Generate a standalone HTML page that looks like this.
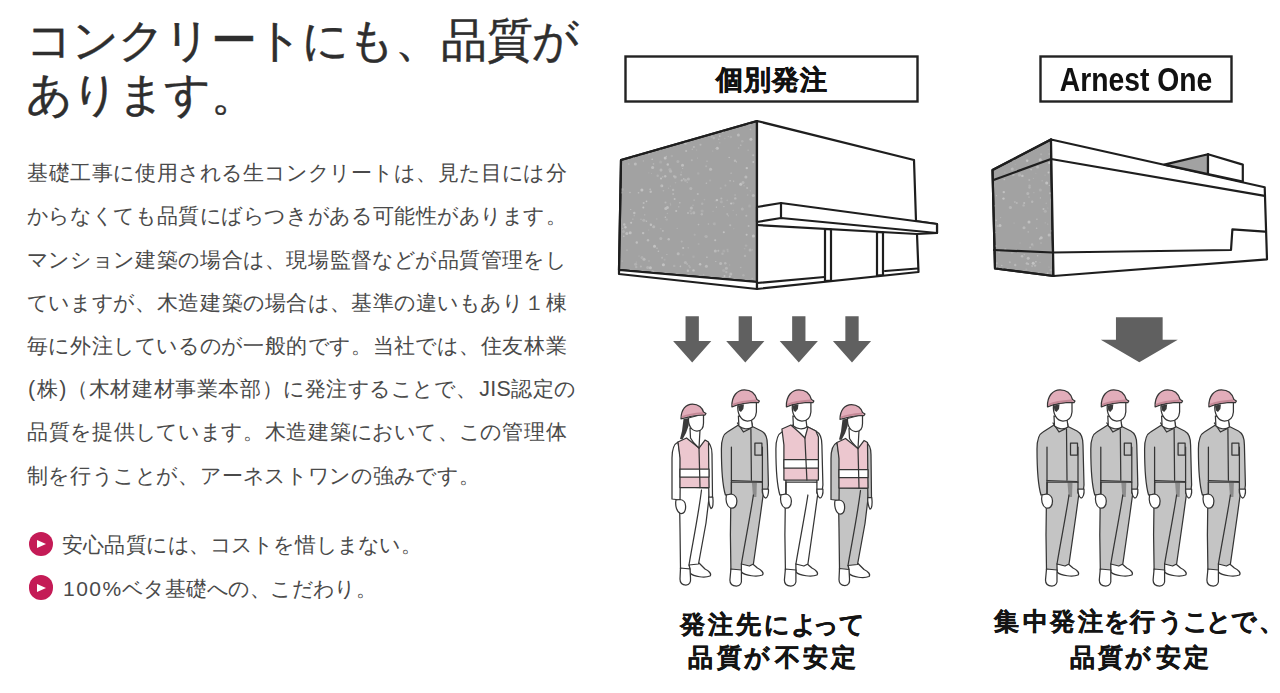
<!DOCTYPE html>
<html lang="ja"><head><meta charset="utf-8"><title>コンクリートにも、品質があります。</title>
<style>
*{margin:0;padding:0;box-sizing:border-box}
html,body{width:1280px;height:693px;overflow:hidden;background:#fff}
body{position:relative;font-family:"Liberation Sans",sans-serif;color:#333}
i{font-style:normal;display:inline-flex;justify-content:center;white-space:nowrap}
i.h{justify-content:flex-start}
i.a{position:absolute;display:block;line-height:1;font-weight:bold;color:#141414;-webkit-text-stroke:0.35px #141414}
h1{position:absolute;left:26.5px;font-size:45.5px;font-weight:normal;color:#2e2e2e;white-space:nowrap;line-height:1}
.p{position:absolute;left:27px;font-size:21.4px;color:#4a4a4a;white-space:nowrap;line-height:1}
.b{position:absolute;left:62px;font-size:21px;color:#4a4a4a;white-space:nowrap;line-height:1}
.ic{position:absolute;left:28.5px;width:24.8px;height:24.8px;border-radius:50%;background:#c41b56}
.ic:after{content:"";position:absolute;left:8.4px;top:8.7px;border-left:9.8px solid #fff;border-top:4.1px solid transparent;border-bottom:4.1px solid transparent}
.lb{position:absolute;font-weight:bold;color:#111;white-space:nowrap;line-height:1}
</style></head><body>
<h1 style="top:18px;-webkit-text-stroke:0.45px #2e2e2e"><i style="width:46px">コ</i><i style="width:46px">ン</i><i style="width:46px">ク</i><i style="width:46px">リ</i><i style="width:46px">ー</i><i style="width:46px">ト</i><i style="width:46px">に</i><i style="width:46px">も</i><i style="width:46px">、</i><i style="width:46px">品</i><i style="width:46px">質</i><i style="width:46px">が</i></h1>
<h1 style="top:71.5px;-webkit-text-stroke:0.45px #2e2e2e"><i style="width:46px">あ</i><i style="width:46px">り</i><i style="width:46px">ま</i><i style="width:46px">す</i><i style="width:46px">。</i></h1>
<div class="p" style="top:163.2px"><i style="width:21.6px">基</i><i style="width:21.6px">礎</i><i style="width:21.6px">工</i><i style="width:21.6px">事</i><i style="width:21.6px">に</i><i style="width:21.6px">使</i><i style="width:21.6px">用</i><i style="width:21.6px">さ</i><i style="width:21.6px">れ</i><i style="width:21.6px">る</i><i style="width:21.6px">生</i><i style="width:21.6px">コ</i><i style="width:21.6px">ン</i><i style="width:21.6px">ク</i><i style="width:21.6px">リ</i><i style="width:21.6px">ー</i><i style="width:21.6px">ト</i><i style="width:21.6px">は</i><i style="width:21.6px">、</i><i style="width:21.6px">見</i><i style="width:21.6px">た</i><i style="width:21.6px">目</i><i style="width:21.6px">に</i><i style="width:21.6px">は</i><i style="width:21.6px">分</i></div>
<div class="p" style="top:206.4px"><i style="width:21.6px">か</i><i style="width:21.6px">ら</i><i style="width:21.6px">な</i><i style="width:21.6px">く</i><i style="width:21.6px">て</i><i style="width:21.6px">も</i><i style="width:21.6px">品</i><i style="width:21.6px">質</i><i style="width:21.6px">に</i><i style="width:21.6px">ば</i><i style="width:21.6px">ら</i><i style="width:21.6px">つ</i><i style="width:21.6px">き</i><i style="width:21.6px">が</i><i style="width:21.6px">あ</i><i style="width:21.6px">る</i><i style="width:21.6px">可</i><i style="width:21.6px">能</i><i style="width:21.6px">性</i><i style="width:21.6px">が</i><i style="width:21.6px">あ</i><i style="width:21.6px">り</i><i style="width:21.6px">ま</i><i style="width:21.6px">す</i><i style="width:21.6px">。</i></div>
<div class="p" style="top:249.6px"><i style="width:21.6px">マ</i><i style="width:21.6px">ン</i><i style="width:21.6px">シ</i><i style="width:21.6px">ョ</i><i style="width:21.6px">ン</i><i style="width:21.6px">建</i><i style="width:21.6px">築</i><i style="width:21.6px">の</i><i style="width:21.6px">場</i><i style="width:21.6px">合</i><i style="width:21.6px">は</i><i style="width:21.6px">、</i><i style="width:21.6px">現</i><i style="width:21.6px">場</i><i style="width:21.6px">監</i><i style="width:21.6px">督</i><i style="width:21.6px">な</i><i style="width:21.6px">ど</i><i style="width:21.6px">が</i><i style="width:21.6px">品</i><i style="width:21.6px">質</i><i style="width:21.6px">管</i><i style="width:21.6px">理</i><i style="width:21.6px">を</i><i style="width:21.6px">し</i></div>
<div class="p" style="top:292.8px"><i style="width:21.6px">て</i><i style="width:21.6px">い</i><i style="width:21.6px">ま</i><i style="width:21.6px">す</i><i style="width:21.6px">が</i><i style="width:21.6px">、</i><i style="width:21.6px">木</i><i style="width:21.6px">造</i><i style="width:21.6px">建</i><i style="width:21.6px">築</i><i style="width:21.6px">の</i><i style="width:21.6px">場</i><i style="width:21.6px">合</i><i style="width:21.6px">は</i><i style="width:21.6px">、</i><i style="width:21.6px">基</i><i style="width:21.6px">準</i><i style="width:21.6px">の</i><i style="width:21.6px">違</i><i style="width:21.6px">い</i><i style="width:21.6px">も</i><i style="width:21.6px">あ</i><i style="width:21.6px">り</i><i style="width:21.6px">１</i><i style="width:21.6px">棟</i></div>
<div class="p" style="top:336.0px"><i style="width:21.6px">毎</i><i style="width:21.6px">に</i><i style="width:21.6px">外</i><i style="width:21.6px">注</i><i style="width:21.6px">し</i><i style="width:21.6px">て</i><i style="width:21.6px">い</i><i style="width:21.6px">る</i><i style="width:21.6px">の</i><i style="width:21.6px">が</i><i style="width:21.6px">一</i><i style="width:21.6px">般</i><i style="width:21.6px">的</i><i style="width:21.6px">で</i><i style="width:21.6px">す</i><i style="width:21.6px">。</i><i style="width:21.6px">当</i><i style="width:21.6px">社</i><i style="width:21.6px">で</i><i style="width:21.6px">は</i><i style="width:21.6px">、</i><i style="width:21.6px">住</i><i style="width:21.6px">友</i><i style="width:21.6px">林</i><i style="width:21.6px">業</i></div>
<div class="p" style="top:379.2px"><i class="h" style="width:40px;letter-spacing:1.6px;justify-content:flex-start;padding-left:1px">(株)</i><i style="width:21.6px">（</i><i style="width:21.6px">木</i><i style="width:21.6px">材</i><i style="width:21.6px">建</i><i style="width:21.6px">材</i><i style="width:21.6px">事</i><i style="width:21.6px">業</i><i style="width:21.6px">本</i><i style="width:21.6px">部</i><i style="width:21.6px">）</i><i style="width:21.6px">に</i><i style="width:21.6px">発</i><i style="width:21.6px">注</i><i style="width:21.6px">す</i><i style="width:21.6px">る</i><i style="width:21.6px">こ</i><i style="width:21.6px">と</i><i style="width:21.6px">で</i><i style="width:21.6px">、</i><i class="h" style="width:33.5px;justify-content:flex-start;padding-left:2px;letter-spacing:0.3px">JIS</i><i style="width:21.6px">認</i><i style="width:21.6px">定</i><i style="width:21.6px">の</i></div>
<div class="p" style="top:422.4px"><i style="width:21.6px">品</i><i style="width:21.6px">質</i><i style="width:21.6px">を</i><i style="width:21.6px">提</i><i style="width:21.6px">供</i><i style="width:21.6px">し</i><i style="width:21.6px">て</i><i style="width:21.6px">い</i><i style="width:21.6px">ま</i><i style="width:21.6px">す</i><i style="width:21.6px">。</i><i style="width:21.6px">木</i><i style="width:21.6px">造</i><i style="width:21.6px">建</i><i style="width:21.6px">築</i><i style="width:21.6px">に</i><i style="width:21.6px">お</i><i style="width:21.6px">い</i><i style="width:21.6px">て</i><i style="width:21.6px">、</i><i style="width:21.6px">こ</i><i style="width:21.6px">の</i><i style="width:21.6px">管</i><i style="width:21.6px">理</i><i style="width:21.6px">体</i></div>
<div class="p" style="top:465.6px"><i style="width:21.6px">制</i><i style="width:21.6px">を</i><i style="width:21.6px">行</i><i style="width:21.6px">う</i><i style="width:21.6px">こ</i><i style="width:21.6px">と</i><i style="width:21.6px">が</i><i style="width:21.6px">、</i><i style="width:21.6px">ア</i><i style="width:21.6px">ー</i><i style="width:21.6px">ネ</i><i style="width:21.6px">ス</i><i style="width:21.6px">ト</i><i style="width:21.6px">ワ</i><i style="width:21.6px">ン</i><i style="width:21.6px">の</i><i style="width:21.6px">強</i><i style="width:21.6px">み</i><i style="width:21.6px">で</i><i style="width:21.6px">す</i><i style="width:21.6px">。</i></div>
<div class="ic" style="top:531.5px"></div>
<div class="b" style="top:534px"><i style="width:21.2px">安</i><i style="width:21.2px">心</i><i style="width:21.2px">品</i><i style="width:21.2px">質</i><i style="width:21.2px">に</i><i style="width:21.2px">は</i><i style="width:21.2px">、</i><i style="width:21.2px">コ</i><i style="width:21.2px">ス</i><i style="width:21.2px">ト</i><i style="width:21.2px">を</i><i style="width:21.2px">惜</i><i style="width:21.2px">し</i><i style="width:21.2px">ま</i><i style="width:21.2px">な</i><i style="width:21.2px">い</i><i style="width:21.2px">。</i></div>
<div class="ic" style="top:575.3px"></div>
<div class="b" style="top:578px"><i class="h" style="width:60.5px;letter-spacing:1.5px;padding-left:1px">100%</i><i style="width:21.2px">ベ</i><i style="width:21.2px">タ</i><i style="width:21.2px">基</i><i style="width:21.2px">礎</i><i style="width:21.2px">へ</i><i style="width:21.2px">の</i><i style="width:21.2px">、</i><i style="width:21.2px">こ</i><i style="width:21.2px">だ</i><i style="width:21.2px">わ</i><i style="width:21.2px">り</i><i style="width:21.2px">。</i></div>
<svg width="1280" height="693" viewBox="0 0 1280 693" style="position:absolute;left:0;top:0">
<defs><filter id="sb" x="0" y="0" width="1" height="1"><feGaussianBlur stdDeviation="0.45"/></filter></defs>
<rect x="625.5" y="56.5" width="292" height="45" fill="#fff" stroke="#222" stroke-width="2.4"/>
<rect x="1040.5" y="56.5" width="191" height="45" fill="#fff" stroke="#222" stroke-width="2.4"/>
<g stroke="#1e1e1e" stroke-width="2.2" stroke-linejoin="round" stroke-linecap="round">
<path fill="#a2a2a2" d="M621,160 L757,121 L757,282 L619,270 Z"/>
<g stroke="none" filter="url(#sb)"><circle cx="639.0" cy="256.0" r="0.6" fill="#b4b4b4"/><circle cx="636.8" cy="242.5" r="1.2" fill="#c0c0c0"/><circle cx="671.9" cy="156.0" r="1.2" fill="#acacac"/><circle cx="740.7" cy="184.2" r="1.5" fill="#c4c4c4"/><circle cx="723.8" cy="232.2" r="1.0" fill="#c3c3c3"/><circle cx="728.4" cy="215.8" r="0.6" fill="#b6b6b6"/><circle cx="693.5" cy="270.4" r="1.2" fill="#c1c1c1"/><circle cx="650.0" cy="189.3" r="0.6" fill="#bcbcbc"/><circle cx="650.7" cy="191.7" r="1.2" fill="#bdbdbd"/><circle cx="652.2" cy="159.2" r="0.8" fill="#c4c4c4"/><circle cx="682.6" cy="168.5" r="0.6" fill="#b9b9b9"/><circle cx="733.2" cy="210.4" r="0.6" fill="#b1b1b1"/><circle cx="705.3" cy="236.6" r="1.0" fill="#afafaf"/><circle cx="720.6" cy="263.6" r="1.5" fill="#b9b9b9"/><circle cx="689.0" cy="265.9" r="0.8" fill="#b5b5b5"/><circle cx="687.9" cy="270.7" r="1.2" fill="#bebebe"/><circle cx="735.3" cy="198.4" r="1.2" fill="#b9b9b9"/><circle cx="710.1" cy="180.6" r="1.0" fill="#aeaeae"/><circle cx="679.8" cy="202.8" r="0.8" fill="#bcbcbc"/><circle cx="733.6" cy="181.2" r="0.6" fill="#bbbbbb"/><circle cx="626.8" cy="233.4" r="1.5" fill="#bebebe"/><circle cx="698.5" cy="224.6" r="0.8" fill="#bcbcbc"/><circle cx="647.7" cy="267.5" r="1.5" fill="#b3b3b3"/><circle cx="675.2" cy="177.0" r="1.5" fill="#b7b7b7"/><circle cx="682.5" cy="165.3" r="1.5" fill="#bfbfbf"/><circle cx="749.3" cy="123.9" r="1.5" fill="#b0b0b0"/><circle cx="690.5" cy="211.1" r="1.2" fill="#adadad"/><circle cx="685.5" cy="180.3" r="1.5" fill="#b2b2b2"/><circle cx="747.1" cy="187.9" r="1.0" fill="#b9b9b9"/><circle cx="667.4" cy="207.5" r="1.5" fill="#bfbfbf"/><circle cx="665.4" cy="217.2" r="0.8" fill="#c0c0c0"/><circle cx="644.7" cy="214.8" r="0.6" fill="#bdbdbd"/><circle cx="727.8" cy="251.2" r="1.0" fill="#adadad"/><circle cx="733.8" cy="228.7" r="0.6" fill="#acacac"/><circle cx="681.7" cy="241.4" r="1.0" fill="#b3b3b3"/><circle cx="657.0" cy="248.2" r="0.8" fill="#b7b7b7"/><circle cx="659.9" cy="149.3" r="1.0" fill="#bcbcbc"/><circle cx="748.6" cy="226.1" r="1.0" fill="#bababa"/><circle cx="715.2" cy="200.9" r="0.6" fill="#acacac"/><circle cx="662.8" cy="176.9" r="0.8" fill="#b4b4b4"/><circle cx="635.6" cy="264.3" r="1.5" fill="#b2b2b2"/><circle cx="750.4" cy="190.8" r="0.6" fill="#b3b3b3"/><circle cx="717.3" cy="148.2" r="1.5" fill="#c1c1c1"/><circle cx="678.2" cy="253.7" r="1.5" fill="#bababa"/><circle cx="650.9" cy="224.8" r="1.2" fill="#c1c1c1"/><circle cx="698.2" cy="173.4" r="1.2" fill="#adadad"/><circle cx="719.8" cy="142.7" r="0.8" fill="#adadad"/><circle cx="662.1" cy="257.8" r="1.0" fill="#b5b5b5"/><circle cx="720.7" cy="188.3" r="1.0" fill="#b0b0b0"/><circle cx="622.1" cy="261.0" r="0.6" fill="#bebebe"/><circle cx="730.8" cy="274.1" r="1.5" fill="#bababa"/><circle cx="644.0" cy="259.2" r="1.5" fill="#bcbcbc"/><circle cx="634.3" cy="213.0" r="1.2" fill="#bebebe"/><circle cx="710.2" cy="169.5" r="1.2" fill="#acacac"/><circle cx="664.6" cy="259.8" r="1.0" fill="#acacac"/><circle cx="642.0" cy="257.6" r="1.5" fill="#b0b0b0"/><circle cx="666.4" cy="156.4" r="0.6" fill="#b8b8b8"/><circle cx="745.9" cy="177.0" r="1.5" fill="#bbbbbb"/><circle cx="723.9" cy="206.6" r="0.6" fill="#c3c3c3"/><circle cx="643.3" cy="207.5" r="1.0" fill="#c4c4c4"/><circle cx="665.5" cy="202.4" r="1.0" fill="#b7b7b7"/><circle cx="652.5" cy="271.2" r="1.2" fill="#b0b0b0"/><circle cx="698.7" cy="243.9" r="1.0" fill="#adadad"/><circle cx="675.5" cy="182.7" r="0.8" fill="#b0b0b0"/><circle cx="666.7" cy="219.6" r="1.2" fill="#aeaeae"/><circle cx="697.5" cy="158.1" r="0.6" fill="#b4b4b4"/><circle cx="669.9" cy="169.4" r="1.5" fill="#afafaf"/><circle cx="682.3" cy="166.5" r="0.6" fill="#b5b5b5"/><circle cx="622.7" cy="228.3" r="0.6" fill="#b9b9b9"/><circle cx="636.4" cy="262.0" r="0.6" fill="#b2b2b2"/><circle cx="643.4" cy="160.9" r="0.6" fill="#b9b9b9"/><circle cx="743.0" cy="182.4" r="1.5" fill="#b5b5b5"/><circle cx="694.7" cy="234.7" r="1.0" fill="#afafaf"/><circle cx="648.8" cy="172.8" r="0.6" fill="#acacac"/><circle cx="726.4" cy="268.3" r="1.5" fill="#b6b6b6"/><circle cx="681.3" cy="172.2" r="0.6" fill="#aeaeae"/><circle cx="743.4" cy="275.3" r="1.2" fill="#afafaf"/><circle cx="654.5" cy="246.3" r="1.5" fill="#c2c2c2"/><circle cx="683.8" cy="178.9" r="0.8" fill="#bdbdbd"/><circle cx="648.9" cy="154.3" r="1.0" fill="#aeaeae"/><circle cx="730.9" cy="137.0" r="1.2" fill="#aeaeae"/><circle cx="708.4" cy="224.0" r="0.8" fill="#b8b8b8"/><circle cx="750.5" cy="129.4" r="0.8" fill="#b6b6b6"/><circle cx="727.2" cy="213.9" r="1.0" fill="#b3b3b3"/><circle cx="665.8" cy="208.4" r="1.5" fill="#bfbfbf"/><circle cx="633.3" cy="157.6" r="0.8" fill="#b8b8b8"/><circle cx="630.7" cy="209.5" r="0.6" fill="#c3c3c3"/><circle cx="631.1" cy="222.8" r="1.0" fill="#c4c4c4"/><circle cx="727.2" cy="200.4" r="0.8" fill="#afafaf"/><circle cx="688.2" cy="247.8" r="0.6" fill="#bcbcbc"/><circle cx="748.2" cy="150.2" r="0.8" fill="#b0b0b0"/><circle cx="731.1" cy="173.2" r="0.6" fill="#c2c2c2"/><circle cx="689.9" cy="267.3" r="1.0" fill="#b0b0b0"/><circle cx="740.8" cy="145.2" r="0.6" fill="#c4c4c4"/><circle cx="663.4" cy="264.8" r="1.5" fill="#c3c3c3"/><circle cx="753.2" cy="155.3" r="1.0" fill="#b9b9b9"/><circle cx="736.5" cy="161.8" r="0.6" fill="#c1c1c1"/><circle cx="750.1" cy="249.9" r="1.5" fill="#b4b4b4"/><circle cx="693.5" cy="256.7" r="1.2" fill="#acacac"/><circle cx="674.0" cy="176.2" r="1.0" fill="#bbbbbb"/><circle cx="624.3" cy="224.5" r="1.2" fill="#bebebe"/><circle cx="623.5" cy="231.6" r="1.5" fill="#b0b0b0"/><circle cx="700.5" cy="144.7" r="1.0" fill="#b8b8b8"/><circle cx="696.6" cy="150.0" r="0.6" fill="#b3b3b3"/><circle cx="686.1" cy="150.9" r="1.0" fill="#bcbcbc"/><circle cx="740.7" cy="267.5" r="0.8" fill="#b3b3b3"/><circle cx="662.9" cy="230.9" r="0.8" fill="#c2c2c2"/><circle cx="676.2" cy="211.0" r="1.0" fill="#c0c0c0"/><circle cx="650.4" cy="267.7" r="1.5" fill="#c0c0c0"/><circle cx="738.6" cy="148.0" r="0.8" fill="#b5b5b5"/><circle cx="661.0" cy="170.0" r="1.5" fill="#b7b7b7"/><circle cx="643.1" cy="233.1" r="1.2" fill="#bfbfbf"/><circle cx="702.2" cy="203.7" r="1.2" fill="#b1b1b1"/><circle cx="641.9" cy="190.0" r="1.5" fill="#c3c3c3"/><circle cx="722.5" cy="131.2" r="1.2" fill="#c2c2c2"/><circle cx="706.4" cy="183.3" r="0.8" fill="#bdbdbd"/><circle cx="752.5" cy="249.8" r="0.6" fill="#b4b4b4"/><circle cx="719.7" cy="136.1" r="0.8" fill="#c4c4c4"/><circle cx="703.7" cy="274.8" r="0.6" fill="#bababa"/><circle cx="735.0" cy="160.8" r="1.2" fill="#b9b9b9"/><circle cx="674.2" cy="265.9" r="1.2" fill="#b0b0b0"/><circle cx="704.4" cy="199.6" r="0.8" fill="#afafaf"/><circle cx="678.8" cy="206.8" r="0.6" fill="#c1c1c1"/><circle cx="660.6" cy="162.0" r="1.5" fill="#acacac"/><circle cx="749.6" cy="206.0" r="1.5" fill="#acacac"/><circle cx="653.5" cy="163.9" r="0.8" fill="#b5b5b5"/><circle cx="640.9" cy="154.5" r="1.0" fill="#bebebe"/><circle cx="722.5" cy="253.7" r="1.2" fill="#b1b1b1"/><circle cx="694.1" cy="200.1" r="0.6" fill="#c4c4c4"/><circle cx="649.0" cy="261.0" r="0.8" fill="#b5b5b5"/><circle cx="729.6" cy="264.9" r="0.6" fill="#afafaf"/><circle cx="660.7" cy="228.8" r="0.8" fill="#aeaeae"/><circle cx="688.0" cy="212.9" r="1.0" fill="#b9b9b9"/><circle cx="688.4" cy="179.0" r="1.5" fill="#b6b6b6"/><circle cx="621.1" cy="192.4" r="1.2" fill="#b7b7b7"/><circle cx="661.8" cy="185.7" r="1.5" fill="#bbbbbb"/><circle cx="636.2" cy="267.1" r="1.2" fill="#b2b2b2"/><circle cx="706.2" cy="236.4" r="1.5" fill="#b2b2b2"/><circle cx="753.3" cy="195.5" r="1.5" fill="#b9b9b9"/><circle cx="746.6" cy="234.8" r="1.0" fill="#c2c2c2"/><circle cx="643.8" cy="220.3" r="1.5" fill="#b2b2b2"/><circle cx="673.1" cy="189.9" r="1.2" fill="#b6b6b6"/><circle cx="736.4" cy="214.8" r="0.6" fill="#bbbbbb"/><circle cx="753.3" cy="161.9" r="1.0" fill="#c0c0c0"/><circle cx="623.8" cy="236.2" r="0.8" fill="#c0c0c0"/><circle cx="725.4" cy="185.4" r="1.0" fill="#b1b1b1"/><circle cx="723.8" cy="251.0" r="1.5" fill="#acacac"/><circle cx="667.8" cy="164.5" r="1.2" fill="#c1c1c1"/><circle cx="693.9" cy="146.9" r="1.0" fill="#bbbbbb"/><circle cx="643.7" cy="203.1" r="1.0" fill="#bcbcbc"/><circle cx="634.2" cy="215.7" r="0.6" fill="#b7b7b7"/><circle cx="630.0" cy="192.5" r="0.8" fill="#bcbcbc"/><circle cx="716.2" cy="148.4" r="0.6" fill="#b8b8b8"/><circle cx="706.2" cy="166.3" r="1.0" fill="#b2b2b2"/><circle cx="691.8" cy="160.2" r="1.0" fill="#b4b4b4"/><circle cx="630.2" cy="232.8" r="1.5" fill="#c1c1c1"/><circle cx="670.3" cy="203.3" r="0.6" fill="#b1b1b1"/><circle cx="660.8" cy="238.4" r="1.5" fill="#b4b4b4"/><circle cx="668.7" cy="239.2" r="1.2" fill="#bdbdbd"/><circle cx="674.6" cy="198.9" r="1.0" fill="#bfbfbf"/><circle cx="665.2" cy="157.9" r="1.5" fill="#c2c2c2"/><circle cx="653.7" cy="226.8" r="1.5" fill="#b8b8b8"/><circle cx="663.4" cy="190.8" r="0.8" fill="#b4b4b4"/><circle cx="646.4" cy="221.3" r="0.8" fill="#bebebe"/><circle cx="680.4" cy="266.4" r="0.8" fill="#bfbfbf"/><circle cx="747.7" cy="195.1" r="0.8" fill="#b0b0b0"/><circle cx="725.3" cy="263.3" r="1.2" fill="#b7b7b7"/><circle cx="662.5" cy="185.9" r="0.6" fill="#c2c2c2"/><circle cx="648.6" cy="230.0" r="0.6" fill="#afafaf"/><circle cx="651.5" cy="173.5" r="0.6" fill="#b1b1b1"/><circle cx="627.0" cy="250.1" r="0.6" fill="#c4c4c4"/><circle cx="715.3" cy="250.9" r="1.5" fill="#bababa"/><circle cx="666.9" cy="254.5" r="0.6" fill="#bfbfbf"/><circle cx="713.8" cy="138.0" r="1.2" fill="#b3b3b3"/><circle cx="687.3" cy="182.3" r="0.8" fill="#b3b3b3"/><circle cx="652.6" cy="167.5" r="1.5" fill="#bebebe"/><circle cx="673.2" cy="193.9" r="1.0" fill="#b6b6b6"/><circle cx="685.4" cy="262.5" r="1.5" fill="#b5b5b5"/><circle cx="744.1" cy="185.8" r="0.8" fill="#acacac"/><circle cx="683.0" cy="254.9" r="0.6" fill="#adadad"/><circle cx="693.0" cy="205.4" r="0.8" fill="#adadad"/><circle cx="746.1" cy="245.6" r="1.2" fill="#aeaeae"/><circle cx="646.5" cy="201.4" r="0.8" fill="#c3c3c3"/><circle cx="658.4" cy="251.3" r="0.8" fill="#c1c1c1"/><circle cx="681.0" cy="174.8" r="1.0" fill="#b4b4b4"/><circle cx="707.0" cy="161.2" r="0.6" fill="#bebebe"/><circle cx="746.3" cy="215.7" r="1.0" fill="#b9b9b9"/><circle cx="702.1" cy="211.0" r="1.5" fill="#adadad"/><circle cx="742.3" cy="208.9" r="1.5" fill="#b2b2b2"/><circle cx="716.4" cy="207.2" r="0.6" fill="#c2c2c2"/><circle cx="656.8" cy="218.9" r="0.6" fill="#b4b4b4"/><circle cx="706.4" cy="266.2" r="1.5" fill="#bbbbbb"/><circle cx="625.4" cy="227.3" r="1.2" fill="#c4c4c4"/><circle cx="715.8" cy="261.5" r="0.6" fill="#c3c3c3"/><circle cx="728.3" cy="136.5" r="0.6" fill="#b8b8b8"/><circle cx="628.8" cy="164.0" r="0.8" fill="#b4b4b4"/><circle cx="727.5" cy="249.7" r="1.0" fill="#afafaf"/><circle cx="677.9" cy="161.5" r="1.5" fill="#b2b2b2"/><circle cx="665.2" cy="176.2" r="1.2" fill="#bebebe"/><circle cx="685.5" cy="143.4" r="1.2" fill="#bcbcbc"/><circle cx="753.4" cy="235.9" r="1.5" fill="#c2c2c2"/><circle cx="752.3" cy="278.6" r="0.8" fill="#b2b2b2"/><circle cx="670.6" cy="204.8" r="0.6" fill="#b9b9b9"/><circle cx="667.3" cy="213.3" r="0.6" fill="#b5b5b5"/><circle cx="730.2" cy="225.2" r="1.0" fill="#b9b9b9"/><circle cx="661.0" cy="178.4" r="1.0" fill="#c3c3c3"/><circle cx="721.3" cy="201.7" r="1.5" fill="#afafaf"/><circle cx="640.9" cy="266.6" r="1.0" fill="#b6b6b6"/><circle cx="697.8" cy="193.9" r="1.0" fill="#bbbbbb"/><circle cx="681.9" cy="180.2" r="1.2" fill="#aeaeae"/><circle cx="744.6" cy="248.8" r="0.8" fill="#adadad"/><circle cx="691.2" cy="213.4" r="1.0" fill="#b3b3b3"/><circle cx="715.2" cy="240.2" r="1.0" fill="#c0c0c0"/><circle cx="670.6" cy="171.3" r="1.5" fill="#b6b6b6"/><circle cx="692.3" cy="149.3" r="0.8" fill="#b4b4b4"/><circle cx="713.1" cy="211.4" r="0.6" fill="#b1b1b1"/><circle cx="723.7" cy="270.5" r="1.5" fill="#adadad"/><circle cx="729.8" cy="276.6" r="1.0" fill="#c2c2c2"/><circle cx="635.3" cy="164.1" r="1.5" fill="#bcbcbc"/><circle cx="706.9" cy="257.3" r="0.8" fill="#c0c0c0"/><circle cx="733.3" cy="203.3" r="1.2" fill="#acacac"/><circle cx="700.1" cy="264.3" r="1.2" fill="#c2c2c2"/><circle cx="729.2" cy="157.5" r="0.8" fill="#bfbfbf"/><circle cx="687.1" cy="264.1" r="0.8" fill="#b9b9b9"/><circle cx="681.6" cy="180.6" r="0.8" fill="#bbbbbb"/><circle cx="718.3" cy="250.8" r="1.0" fill="#b9b9b9"/><circle cx="648.0" cy="240.2" r="1.2" fill="#bcbcbc"/><circle cx="738.4" cy="135.0" r="1.5" fill="#bcbcbc"/><circle cx="727.7" cy="214.8" r="0.6" fill="#b7b7b7"/><circle cx="735.1" cy="195.0" r="0.8" fill="#b5b5b5"/><circle cx="714.3" cy="223.8" r="1.5" fill="#afafaf"/><circle cx="731.1" cy="203.5" r="1.0" fill="#c4c4c4"/><circle cx="693.8" cy="212.8" r="1.5" fill="#b5b5b5"/><circle cx="691.4" cy="208.1" r="1.5" fill="#b9b9b9"/><circle cx="701.8" cy="214.2" r="1.2" fill="#b5b5b5"/><circle cx="638.5" cy="192.7" r="0.8" fill="#bdbdbd"/><circle cx="724.5" cy="276.0" r="1.0" fill="#c0c0c0"/><circle cx="622.3" cy="189.6" r="1.5" fill="#adadad"/><circle cx="670.4" cy="186.1" r="0.6" fill="#aeaeae"/><circle cx="745.0" cy="255.9" r="1.2" fill="#b4b4b4"/><circle cx="683.2" cy="248.0" r="1.0" fill="#c0c0c0"/><circle cx="721.4" cy="198.6" r="1.0" fill="#b8b8b8"/><circle cx="668.5" cy="188.2" r="0.6" fill="#b1b1b1"/><circle cx="730.1" cy="180.7" r="0.8" fill="#bebebe"/><circle cx="726.3" cy="272.1" r="1.2" fill="#b4b4b4"/><circle cx="746.8" cy="168.1" r="1.2" fill="#c2c2c2"/><circle cx="657.7" cy="175.7" r="1.2" fill="#b2b2b2"/><circle cx="716.9" cy="200.1" r="1.2" fill="#c2c2c2"/><circle cx="718.8" cy="139.2" r="0.8" fill="#bbbbbb"/><circle cx="724.8" cy="138.5" r="0.8" fill="#acacac"/><circle cx="632.9" cy="219.1" r="0.6" fill="#bdbdbd"/><circle cx="650.2" cy="189.2" r="0.6" fill="#c0c0c0"/><circle cx="750.9" cy="139.2" r="1.5" fill="#c1c1c1"/><circle cx="677.2" cy="228.4" r="0.6" fill="#b4b4b4"/><circle cx="712.7" cy="151.1" r="0.6" fill="#b2b2b2"/><circle cx="711.7" cy="136.7" r="1.2" fill="#afafaf"/><circle cx="710.6" cy="169.2" r="1.5" fill="#bbbbbb"/><circle cx="742.3" cy="141.2" r="1.2" fill="#afafaf"/><circle cx="641.0" cy="219.3" r="0.8" fill="#b1b1b1"/><circle cx="690.8" cy="188.4" r="1.5" fill="#b5b5b5"/></g>
<path fill="none" d="M621,160 L757,121 L757,282 L619,270 Z"/>
<path fill="#fff" d="M619,270 L757,282 L757,289 L619,274 Z"/>
<path fill="#fff" d="M757,121 L914,160 L916,221 L937,224 L937,233 L917,234 L918.5,272 L757,289 Z"/>
<path fill="#fff" d="M757,207 L781,203 L937,224 L937,233 L781,218 L757,222 Z"/>
<path fill="none" d="M781,203 L781,218 M757,225 L917,234 M757,283 L824.5,277 M885,271 L917.5,268.5"/>
<path fill="#fff" d="M825,229 L831,229.5 L831,280.5 L825,281 Z"/>
<path fill="#fff" d="M877,232 L883,232.5 L883,275 L877,275.5 Z"/>
</g>
<g stroke="#1e1e1e" stroke-width="2.2" stroke-linejoin="round" stroke-linecap="round">
<path fill="#a2a2a2" d="M992.5,170 L1051,139.5 L1053.5,276 L995,268.5 Z"/>
<g stroke="none" filter="url(#sb)"><circle cx="1049.0" cy="267.1" r="0.6" fill="#aeaeae"/><circle cx="999.3" cy="252.2" r="1.0" fill="#b4b4b4"/><circle cx="1029.0" cy="221.9" r="1.5" fill="#c1c1c1"/><circle cx="1003.5" cy="198.6" r="1.2" fill="#c3c3c3"/><circle cx="1043.5" cy="209.0" r="1.0" fill="#bdbdbd"/><circle cx="1047.8" cy="208.0" r="0.6" fill="#acacac"/><circle cx="1015.2" cy="265.0" r="1.2" fill="#b9b9b9"/><circle cx="1045.3" cy="211.2" r="1.5" fill="#b1b1b1"/><circle cx="1013.0" cy="159.6" r="1.5" fill="#b7b7b7"/><circle cx="1051.4" cy="230.9" r="0.8" fill="#bababa"/><circle cx="1039.9" cy="238.8" r="1.0" fill="#bebebe"/><circle cx="1049.3" cy="162.9" r="1.2" fill="#c2c2c2"/><circle cx="1036.6" cy="228.3" r="0.8" fill="#bbbbbb"/><circle cx="1010.4" cy="207.5" r="1.5" fill="#b7b7b7"/><circle cx="1032.2" cy="201.7" r="1.2" fill="#b7b7b7"/><circle cx="1026.9" cy="263.4" r="1.2" fill="#bbbbbb"/><circle cx="1032.1" cy="266.1" r="0.8" fill="#bfbfbf"/><circle cx="1009.8" cy="262.3" r="1.0" fill="#b5b5b5"/><circle cx="1049.1" cy="235.1" r="1.5" fill="#bdbdbd"/><circle cx="1024.0" cy="227.8" r="1.5" fill="#b9b9b9"/><circle cx="1012.3" cy="169.0" r="1.5" fill="#b7b7b7"/><circle cx="1047.7" cy="224.1" r="0.6" fill="#b6b6b6"/><circle cx="1035.9" cy="261.8" r="0.8" fill="#c3c3c3"/><circle cx="1000.6" cy="217.6" r="0.6" fill="#b4b4b4"/><circle cx="1028.2" cy="231.9" r="0.6" fill="#c4c4c4"/><circle cx="1024.3" cy="254.6" r="0.8" fill="#b2b2b2"/><circle cx="1048.3" cy="149.5" r="0.6" fill="#adadad"/><circle cx="1015.2" cy="164.3" r="0.6" fill="#aeaeae"/><circle cx="996.8" cy="263.2" r="1.0" fill="#b4b4b4"/><circle cx="1001.8" cy="265.5" r="0.8" fill="#bcbcbc"/><circle cx="1033.9" cy="192.6" r="0.6" fill="#b3b3b3"/><circle cx="1014.1" cy="223.0" r="0.6" fill="#b5b5b5"/><circle cx="1020.1" cy="243.0" r="0.6" fill="#b4b4b4"/><circle cx="1037.6" cy="255.8" r="0.8" fill="#bbbbbb"/><circle cx="1049.2" cy="153.9" r="1.0" fill="#afafaf"/><circle cx="995.9" cy="246.0" r="0.8" fill="#bcbcbc"/><circle cx="1027.8" cy="193.6" r="1.5" fill="#b6b6b6"/><circle cx="1002.7" cy="268.7" r="1.0" fill="#b4b4b4"/><circle cx="1029.0" cy="197.1" r="0.6" fill="#c2c2c2"/><circle cx="1026.3" cy="160.1" r="0.6" fill="#b4b4b4"/><circle cx="1000.0" cy="225.6" r="1.5" fill="#c2c2c2"/><circle cx="1047.7" cy="273.3" r="0.8" fill="#c2c2c2"/><circle cx="1019.8" cy="174.7" r="1.5" fill="#b3b3b3"/><circle cx="1030.1" cy="247.5" r="1.0" fill="#b4b4b4"/><circle cx="1033.5" cy="178.4" r="0.6" fill="#b0b0b0"/><circle cx="996.5" cy="195.7" r="0.6" fill="#bcbcbc"/><circle cx="1035.8" cy="173.4" r="0.6" fill="#acacac"/><circle cx="1004.9" cy="172.2" r="0.8" fill="#acacac"/><circle cx="1024.2" cy="203.0" r="1.0" fill="#bdbdbd"/><circle cx="1031.1" cy="169.6" r="0.8" fill="#c3c3c3"/><circle cx="1040.4" cy="197.9" r="0.6" fill="#bebebe"/><circle cx="1028.2" cy="258.3" r="1.5" fill="#bebebe"/><circle cx="1040.3" cy="190.0" r="1.5" fill="#afafaf"/><circle cx="1029.3" cy="179.9" r="1.0" fill="#b5b5b5"/><circle cx="995.6" cy="232.3" r="0.6" fill="#afafaf"/><circle cx="1011.9" cy="252.9" r="0.6" fill="#bababa"/><circle cx="997.9" cy="225.9" r="1.2" fill="#b2b2b2"/><circle cx="1045.2" cy="222.8" r="0.6" fill="#b5b5b5"/><circle cx="995.9" cy="182.0" r="0.6" fill="#b3b3b3"/><circle cx="1037.5" cy="167.0" r="1.5" fill="#b7b7b7"/><circle cx="1016.8" cy="202.9" r="1.0" fill="#b8b8b8"/><circle cx="1045.1" cy="175.2" r="0.6" fill="#aeaeae"/><circle cx="1029.6" cy="185.8" r="1.2" fill="#b2b2b2"/><circle cx="1032.1" cy="244.5" r="1.2" fill="#b5b5b5"/><circle cx="1014.9" cy="202.1" r="1.0" fill="#b4b4b4"/><circle cx="1022.1" cy="256.2" r="1.2" fill="#bbbbbb"/><circle cx="1042.2" cy="180.8" r="0.8" fill="#b1b1b1"/><circle cx="1022.4" cy="175.9" r="1.2" fill="#c2c2c2"/><circle cx="1033.2" cy="263.2" r="1.5" fill="#c3c3c3"/><circle cx="1041.1" cy="154.2" r="1.0" fill="#b1b1b1"/><circle cx="1051.4" cy="160.9" r="1.2" fill="#aeaeae"/><circle cx="1040.0" cy="262.3" r="0.6" fill="#b0b0b0"/><circle cx="1050.0" cy="193.3" r="1.0" fill="#bababa"/><circle cx="1004.3" cy="179.5" r="0.8" fill="#bdbdbd"/><circle cx="1050.7" cy="269.9" r="1.2" fill="#afafaf"/><circle cx="1013.2" cy="174.4" r="1.5" fill="#b4b4b4"/><circle cx="1048.5" cy="172.6" r="1.0" fill="#c4c4c4"/><circle cx="1027.2" cy="160.7" r="1.2" fill="#c3c3c3"/><circle cx="996.2" cy="220.4" r="0.8" fill="#b8b8b8"/><circle cx="1023.6" cy="205.4" r="1.2" fill="#b4b4b4"/><circle cx="1035.0" cy="265.6" r="1.2" fill="#b7b7b7"/><circle cx="1049.3" cy="185.3" r="0.6" fill="#c4c4c4"/><circle cx="1041.2" cy="237.7" r="1.5" fill="#bfbfbf"/><circle cx="1005.2" cy="249.7" r="1.2" fill="#c0c0c0"/><circle cx="1046.7" cy="183.0" r="1.5" fill="#c2c2c2"/><circle cx="1046.2" cy="203.3" r="0.8" fill="#afafaf"/><circle cx="995.5" cy="266.5" r="1.5" fill="#bfbfbf"/><circle cx="1016.5" cy="170.1" r="0.6" fill="#b8b8b8"/><circle cx="1041.0" cy="243.1" r="0.8" fill="#b4b4b4"/><circle cx="1036.9" cy="219.2" r="0.8" fill="#bbbbbb"/><circle cx="1040.3" cy="159.8" r="1.5" fill="#c1c1c1"/><circle cx="1019.3" cy="175.1" r="1.5" fill="#b1b1b1"/><circle cx="1021.1" cy="168.7" r="0.6" fill="#b7b7b7"/><circle cx="994.7" cy="205.8" r="0.6" fill="#c4c4c4"/><circle cx="1028.2" cy="264.1" r="1.0" fill="#bababa"/><circle cx="1009.7" cy="208.1" r="0.6" fill="#aeaeae"/><circle cx="1029.5" cy="187.6" r="1.2" fill="#b4b4b4"/><circle cx="1033.0" cy="245.8" r="0.8" fill="#adadad"/><circle cx="1003.8" cy="192.1" r="1.2" fill="#c1c1c1"/><circle cx="1026.3" cy="269.6" r="1.0" fill="#adadad"/></g>
<path fill="none" d="M992.5,170 L1051,139.5 L1053.5,276 L995,268.5 Z"/>
<path fill="#fff" d="M1051,139.5 L1264.7,187.3 L1267,259.3 L1053.5,276 Z"/>
<path fill="none" d="M993.5,180 L1051,159 L1264.7,195.8 M994,250 L1052.5,252.5 L1231,250 L1232.4,229.3 L1265,231.6"/>
<path fill="#a2a2a2" d="M1164.3,164.6 L1208,154.2 L1208,174 Z"/>
<path fill="#fff" d="M1208,154.2 L1242.8,164.6 L1242.8,181.6 L1208,174 Z"/>
</g>
<path fill="#606060" d="M685.5500000000001,316.2 L698.85,316.2 L698.85,341.1 L711.3000000000001,341.1 L692.2,362.6 L673.1,341.1 L685.5500000000001,341.1 Z"/>
<path fill="#606060" d="M738.65,316.2 L751.9499999999999,316.2 L751.9499999999999,341.1 L764.4,341.1 L745.3,362.6 L726.1999999999999,341.1 L738.65,341.1 Z"/>
<path fill="#606060" d="M792.15,316.2 L805.4499999999999,316.2 L805.4499999999999,341.1 L817.9,341.1 L798.8,362.6 L779.6999999999999,341.1 L792.15,341.1 Z"/>
<path fill="#606060" d="M845.35,316.2 L858.65,316.2 L858.65,341.1 L871.1,341.1 L852.0,362.6 L832.9,341.1 L845.35,341.1 Z"/>
<path fill="#606060" d="M1115.95,317.2 L1162.6499999999999,317.2 L1162.6499999999999,339.7 L1177.8,339.7 L1139.3,362.2 L1100.8,339.7 L1115.95,339.7 Z"/>
<g transform="translate(665,398)" stroke="#353535" stroke-width="1.25" stroke-linejoin="round" stroke-linecap="round">
<path fill="#fff" d="M24,164 L25,175 C29,179 40,180 45,178 C47,176 44,173 40,171 L34,165 Z"/>
<path fill="#fff" d="M14.5,89 L44.5,90 L44,100 L41,125 L33.5,166 L24,167 L25,171 L15.5,171 L15,130 L14.5,100 Z"/>
<path fill="none" d="M36.5,92 C33,120 27,148 24,167"/>
<path fill="#fff" d="M15.5,170 L15,181 C15,185 17,187 21,187 C24.5,187 26,184 25.5,180 L25,171 Z"/>
<path fill="#fff" d="M13,44 C9,46 7,52 7,60 L7,101 L15,102 L15.5,60 Z"/>
<path fill="#fff" d="M41,43 C45,45 47,50 47,56 L47.5,99 L44,100 L43,60 Z"/>
<path fill="#ecc7cf" d="M13,44 L21.5,40 L34,50 L40,42 L43.5,44 L44,89.5 L15,89.5 L15,60 Z"/>
<path fill="#fff" d="M15,71 L44,71 L44,79 L15,79 Z"/>
<path fill="none" d="M34,50 L35,89.5"/>
<path fill="#fff" d="M11,102 C10,107 11.5,114 15.5,115.5 C19,116 20.8,113 20.6,108 C20.5,104 19,102 15,101.5 Z"/>
<path fill="#fff" d="M43.7,99 C43.5,103 44.5,109 46,110.5 C48,110.5 48.5,105 47.8,99 Z"/>
<path fill="#fff" d="M25,30 L25.5,40 C28,45 32,48 34,50 L35,32 Z"/>
<path fill="#3a3a3a" stroke="none" d="M18.5,21 L24.5,20 L23.5,28 L21,35 L17.5,41.5 L15,41 L17,33 Z"/>
<path fill="#fff" d="M23.5,20 C23,28 27,33 32,33 C36,33 38.5,30 38.5,25 L38.5,16 Z"/>
<path fill="#e2adba" d="M16,20.8 C16,11.5 21,6 27.5,6 C33.5,6 37.5,10 38.5,14 L41,15.5 L40,17 L37.5,17 C32,17.3 27,18 24,18.8 C20.5,19.6 18,20.3 16,20.8 Z"/>
<path fill="none" stroke="#c48896" stroke-width="1.8" d="M17.5,18.8 C21,17.5 27,16 37.5,15.2"/>
</g>
<g transform="translate(714.4,385)" stroke="#353535" stroke-width="1.25" stroke-linejoin="round" stroke-linecap="round">
<path fill="#fff" d="M26,177 L27,187 C31,191 43,192 48,190 C50,188 47,185 43,183 L36,177 Z"/>
<path fill="#c4c4c4" d="M17,95 L50,97 L49,108 L46,130 L39,179 L35,181 L27,179 L27,186 L16.5,185 L16,150 L16.5,110 Z"/>
<path fill="#8c8c8c" stroke="none" d="M37.5,97.5 L42.5,97.5 L42,112 L38.6,112 Z"/>
<path fill="none" d="M39,110 C36,130 31,155 27,179"/>
<path fill="#fff" d="M16.5,184 L15.5,195 C15.5,199 18,201 22,201 C26,201 27.5,198 27,194 L27,185 Z"/>
<path fill="#c4c4c4" d="M24,40 L37,41 L47,46 C51,48 53,53 53,60 L54,100 L53,108 L48,108 L48,97 L17,97 L17,109 L11,110 C8,100 7,80 7,64 C7,55 9,49 13,47 Z"/>
<path fill="none" d="M17,62 L17,109 M48,62 L48,97"/>
<path fill="none" d="M17,95.5 L47,96.5 M36.5,44 L37,95"/>
<path fill="#c4c4c4" d="M23,38 L29,47 L35,44 L38,41 L37.5,38"/>
<rect x="40.5" y="58" width="7" height="12" fill="#c4c4c4"/>
<path fill="#fff" d="M12,110 C11,115 12,121 16,123 C20,124 22.5,121 22.5,116 C22.5,112 21,110 17,109 Z"/>
<path fill="#fff" d="M48,104 C48,108 49,112 51,113 C53,113 54.5,109 54,104 Z"/>
<path fill="#fff" d="M24,31 L24.5,41 C28,44 34,45 38,42 L37,34 Z"/>
<path fill="#fff" d="M23.5,20 C22.5,29 27,36 33,36 C38,36 41.5,33 42,27 L42,16 Z"/>
<path fill="#3a3a3a" stroke="none" d="M23.5,20.5 L29.5,19.5 L29,24 L26.5,27 L24.5,25.5 Z"/>
<path fill="#e2adba" d="M17.5,21.8 C17,11 23,4.8 30,4.8 C37,4.8 41,9 42.5,14.5 L45,16 L44,17.6 L41,17.4 C35,17.6 29,18.4 26,19.2 C22,20.2 19.5,21.2 17.5,21.8 Z"/>
<path fill="none" stroke="#c48896" stroke-width="2" d="M19,19.6 C23,18 30,16.4 41,15.6"/>
</g>
<g transform="translate(768.9,385)" stroke="#353535" stroke-width="1.25" stroke-linejoin="round" stroke-linecap="round">
<path fill="#fff" d="M26,177 L27,187 C31,191 43,192 48,190 C50,188 47,185 43,183 L36,177 Z"/>
<path fill="#fff" d="M17,95 L50,97 L49,108 L46,130 L39,179 L35,181 L27,179 L27,186 L16.5,185 L16,150 L16.5,110 Z"/>
<path fill="none" d="M39,110 C36,130 31,155 27,179"/>
<path fill="#fff" d="M16.5,184 L15.5,195 C15.5,199 18,201 22,201 C26,201 27.5,198 27,194 L27,185 Z"/>
<path fill="#fff" d="M24,40 L37,41 L47,46 C51,48 53,53 53,60 L54,100 L53,108 L48,108 L48,97 L17,97 L17,109 L11,110 C8,100 7,80 7,64 C7,55 9,49 13,47 Z"/>
<path fill="none" d="M17,62 L17,109 M48,62 L48,97"/>
<path fill="#ecc7cf" d="M13,44 L22,40 L31,48 L36,53 L39,42 L47,46 L49.5,52 L49.5,95 L15,95 L15,60 Z"/>
<path fill="#fff" d="M15,74.5 L49.5,74.5 L49.5,83 L15,83 Z"/>
<path fill="none" d="M36,53 L38,95"/>
<path fill="#fff" d="M12,110 C11,115 12,121 16,123 C20,124 22.5,121 22.5,116 C22.5,112 21,110 17,109 Z"/>
<path fill="#fff" d="M48,104 C48,108 49,112 51,113 C53,113 54.5,109 54,104 Z"/>
<path fill="#fff" d="M24,31 L24.5,41 C28,44 34,45 38,42 L37,34 Z"/>
<path fill="#fff" d="M23.5,20 C22.5,29 27,36 33,36 C38,36 41.5,33 42,27 L42,16 Z"/>
<path fill="#3a3a3a" stroke="none" d="M23.5,20.5 L29.5,19.5 L29,24 L26.5,27 L24.5,25.5 Z"/>
<path fill="#e2adba" d="M17.5,21.8 C17,11 23,4.8 30,4.8 C37,4.8 41,9 42.5,14.5 L45,16 L44,17.6 L41,17.4 C35,17.6 29,18.4 26,19.2 C22,20.2 19.5,21.2 17.5,21.8 Z"/>
<path fill="none" stroke="#c48896" stroke-width="2" d="M19,19.6 C23,18 30,16.4 41,15.6"/>
</g>
<g transform="translate(824,398.5)" stroke="#353535" stroke-width="1.25" stroke-linejoin="round" stroke-linecap="round">
<path fill="#fff" d="M24,164 L25,175 C29,179 40,180 45,178 C47,176 44,173 40,171 L34,165 Z"/>
<path fill="#c4c4c4" d="M14.5,89 L44.5,90 L44,100 L41,125 L33.5,166 L24,167 L25,171 L15.5,171 L15,130 L14.5,100 Z"/>
<path fill="none" d="M36.5,92 C33,120 27,148 24,167"/>
<path fill="#fff" d="M15.5,170 L15,181 C15,185 17,187 21,187 C24.5,187 26,184 25.5,180 L25,171 Z"/>
<path fill="#c4c4c4" d="M13,44 C9,46 7,52 7,60 L7,101 L15,102 L15.5,60 Z"/>
<path fill="#c4c4c4" d="M41,43 C45,45 47,50 47,56 L47.5,99 L44,100 L43,60 Z"/>
<path fill="#ecc7cf" d="M13,44 L21.5,40 L34,50 L40,42 L43.5,44 L44,89.5 L15,89.5 L15,60 Z"/>
<path fill="#fff" d="M15,71 L44,71 L44,79 L15,79 Z"/>
<path fill="none" d="M34,50 L35,89.5"/>
<path fill="#fff" d="M11,102 C10,107 11.5,114 15.5,115.5 C19,116 20.8,113 20.6,108 C20.5,104 19,102 15,101.5 Z"/>
<path fill="#fff" d="M43.7,99 C43.5,103 44.5,109 46,110.5 C48,110.5 48.5,105 47.8,99 Z"/>
<path fill="#fff" d="M25,30 L25.5,40 C28,45 32,48 34,50 L35,32 Z"/>
<path fill="#3a3a3a" stroke="none" d="M18.5,21 L24.5,20 L23.5,28 L21,35 L17.5,41.5 L15,41 L17,33 Z"/>
<path fill="#fff" d="M23.5,20 C23,28 27,33 32,33 C36,33 38.5,30 38.5,25 L38.5,16 Z"/>
<path fill="#e2adba" d="M16,20.8 C16,11.5 21,6 27.5,6 C33.5,6 37.5,10 38.5,14 L41,15.5 L40,17 L37.5,17 C32,17.3 27,18 24,18.8 C20.5,19.6 18,20.3 16,20.8 Z"/>
<path fill="none" stroke="#c48896" stroke-width="1.8" d="M17.5,18.8 C21,17.5 27,16 37.5,15.2"/>
</g>
<g transform="translate(1030.0,385)" stroke="#353535" stroke-width="1.25" stroke-linejoin="round" stroke-linecap="round">
<path fill="#fff" d="M26,177 L27,187 C31,191 43,192 48,190 C50,188 47,185 43,183 L36,177 Z"/>
<path fill="#c4c4c4" d="M17,95 L50,97 L49,108 L46,130 L39,179 L35,181 L27,179 L27,186 L16.5,185 L16,150 L16.5,110 Z"/>
<path fill="#8c8c8c" stroke="none" d="M37.5,97.5 L42.5,97.5 L42,112 L38.6,112 Z"/>
<path fill="none" d="M39,110 C36,130 31,155 27,179"/>
<path fill="#fff" d="M16.5,184 L15.5,195 C15.5,199 18,201 22,201 C26,201 27.5,198 27,194 L27,185 Z"/>
<path fill="#c4c4c4" d="M24,40 L37,41 L47,46 C51,48 53,53 53,60 L54,100 L53,108 L48,108 L48,97 L17,97 L17,109 L11,110 C8,100 7,80 7,64 C7,55 9,49 13,47 Z"/>
<path fill="none" d="M17,62 L17,109 M48,62 L48,97"/>
<path fill="none" d="M17,95.5 L47,96.5 M36.5,44 L37,95"/>
<path fill="#c4c4c4" d="M23,38 L29,47 L35,44 L38,41 L37.5,38"/>
<rect x="40.5" y="58" width="7" height="12" fill="#c4c4c4"/>
<path fill="#fff" d="M12,110 C11,115 12,121 16,123 C20,124 22.5,121 22.5,116 C22.5,112 21,110 17,109 Z"/>
<path fill="#fff" d="M48,104 C48,108 49,112 51,113 C53,113 54.5,109 54,104 Z"/>
<path fill="#fff" d="M24,31 L24.5,41 C28,44 34,45 38,42 L37,34 Z"/>
<path fill="#fff" d="M23.5,20 C22.5,29 27,36 33,36 C38,36 41.5,33 42,27 L42,16 Z"/>
<path fill="#3a3a3a" stroke="none" d="M23.5,20.5 L29.5,19.5 L29,24 L26.5,27 L24.5,25.5 Z"/>
<path fill="#e2adba" d="M17.5,21.8 C17,11 23,4.8 30,4.8 C37,4.8 41,9 42.5,14.5 L45,16 L44,17.6 L41,17.4 C35,17.6 29,18.4 26,19.2 C22,20.2 19.5,21.2 17.5,21.8 Z"/>
<path fill="none" stroke="#c48896" stroke-width="2" d="M19,19.6 C23,18 30,16.4 41,15.6"/>
</g>
<g transform="translate(1083.8,385)" stroke="#353535" stroke-width="1.25" stroke-linejoin="round" stroke-linecap="round">
<path fill="#fff" d="M26,177 L27,187 C31,191 43,192 48,190 C50,188 47,185 43,183 L36,177 Z"/>
<path fill="#c4c4c4" d="M17,95 L50,97 L49,108 L46,130 L39,179 L35,181 L27,179 L27,186 L16.5,185 L16,150 L16.5,110 Z"/>
<path fill="#8c8c8c" stroke="none" d="M37.5,97.5 L42.5,97.5 L42,112 L38.6,112 Z"/>
<path fill="none" d="M39,110 C36,130 31,155 27,179"/>
<path fill="#fff" d="M16.5,184 L15.5,195 C15.5,199 18,201 22,201 C26,201 27.5,198 27,194 L27,185 Z"/>
<path fill="#c4c4c4" d="M24,40 L37,41 L47,46 C51,48 53,53 53,60 L54,100 L53,108 L48,108 L48,97 L17,97 L17,109 L11,110 C8,100 7,80 7,64 C7,55 9,49 13,47 Z"/>
<path fill="none" d="M17,62 L17,109 M48,62 L48,97"/>
<path fill="none" d="M17,95.5 L47,96.5 M36.5,44 L37,95"/>
<path fill="#c4c4c4" d="M23,38 L29,47 L35,44 L38,41 L37.5,38"/>
<rect x="40.5" y="58" width="7" height="12" fill="#c4c4c4"/>
<path fill="#fff" d="M12,110 C11,115 12,121 16,123 C20,124 22.5,121 22.5,116 C22.5,112 21,110 17,109 Z"/>
<path fill="#fff" d="M48,104 C48,108 49,112 51,113 C53,113 54.5,109 54,104 Z"/>
<path fill="#fff" d="M24,31 L24.5,41 C28,44 34,45 38,42 L37,34 Z"/>
<path fill="#fff" d="M23.5,20 C22.5,29 27,36 33,36 C38,36 41.5,33 42,27 L42,16 Z"/>
<path fill="#3a3a3a" stroke="none" d="M23.5,20.5 L29.5,19.5 L29,24 L26.5,27 L24.5,25.5 Z"/>
<path fill="#e2adba" d="M17.5,21.8 C17,11 23,4.8 30,4.8 C37,4.8 41,9 42.5,14.5 L45,16 L44,17.6 L41,17.4 C35,17.6 29,18.4 26,19.2 C22,20.2 19.5,21.2 17.5,21.8 Z"/>
<path fill="none" stroke="#c48896" stroke-width="2" d="M19,19.6 C23,18 30,16.4 41,15.6"/>
</g>
<g transform="translate(1137.6,385)" stroke="#353535" stroke-width="1.25" stroke-linejoin="round" stroke-linecap="round">
<path fill="#fff" d="M26,177 L27,187 C31,191 43,192 48,190 C50,188 47,185 43,183 L36,177 Z"/>
<path fill="#c4c4c4" d="M17,95 L50,97 L49,108 L46,130 L39,179 L35,181 L27,179 L27,186 L16.5,185 L16,150 L16.5,110 Z"/>
<path fill="#8c8c8c" stroke="none" d="M37.5,97.5 L42.5,97.5 L42,112 L38.6,112 Z"/>
<path fill="none" d="M39,110 C36,130 31,155 27,179"/>
<path fill="#fff" d="M16.5,184 L15.5,195 C15.5,199 18,201 22,201 C26,201 27.5,198 27,194 L27,185 Z"/>
<path fill="#c4c4c4" d="M24,40 L37,41 L47,46 C51,48 53,53 53,60 L54,100 L53,108 L48,108 L48,97 L17,97 L17,109 L11,110 C8,100 7,80 7,64 C7,55 9,49 13,47 Z"/>
<path fill="none" d="M17,62 L17,109 M48,62 L48,97"/>
<path fill="none" d="M17,95.5 L47,96.5 M36.5,44 L37,95"/>
<path fill="#c4c4c4" d="M23,38 L29,47 L35,44 L38,41 L37.5,38"/>
<rect x="40.5" y="58" width="7" height="12" fill="#c4c4c4"/>
<path fill="#fff" d="M12,110 C11,115 12,121 16,123 C20,124 22.5,121 22.5,116 C22.5,112 21,110 17,109 Z"/>
<path fill="#fff" d="M48,104 C48,108 49,112 51,113 C53,113 54.5,109 54,104 Z"/>
<path fill="#fff" d="M24,31 L24.5,41 C28,44 34,45 38,42 L37,34 Z"/>
<path fill="#fff" d="M23.5,20 C22.5,29 27,36 33,36 C38,36 41.5,33 42,27 L42,16 Z"/>
<path fill="#3a3a3a" stroke="none" d="M23.5,20.5 L29.5,19.5 L29,24 L26.5,27 L24.5,25.5 Z"/>
<path fill="#e2adba" d="M17.5,21.8 C17,11 23,4.8 30,4.8 C37,4.8 41,9 42.5,14.5 L45,16 L44,17.6 L41,17.4 C35,17.6 29,18.4 26,19.2 C22,20.2 19.5,21.2 17.5,21.8 Z"/>
<path fill="none" stroke="#c48896" stroke-width="2" d="M19,19.6 C23,18 30,16.4 41,15.6"/>
</g>
<g transform="translate(1191.4,385)" stroke="#353535" stroke-width="1.25" stroke-linejoin="round" stroke-linecap="round">
<path fill="#fff" d="M26,177 L27,187 C31,191 43,192 48,190 C50,188 47,185 43,183 L36,177 Z"/>
<path fill="#c4c4c4" d="M17,95 L50,97 L49,108 L46,130 L39,179 L35,181 L27,179 L27,186 L16.5,185 L16,150 L16.5,110 Z"/>
<path fill="#8c8c8c" stroke="none" d="M37.5,97.5 L42.5,97.5 L42,112 L38.6,112 Z"/>
<path fill="none" d="M39,110 C36,130 31,155 27,179"/>
<path fill="#fff" d="M16.5,184 L15.5,195 C15.5,199 18,201 22,201 C26,201 27.5,198 27,194 L27,185 Z"/>
<path fill="#c4c4c4" d="M24,40 L37,41 L47,46 C51,48 53,53 53,60 L54,100 L53,108 L48,108 L48,97 L17,97 L17,109 L11,110 C8,100 7,80 7,64 C7,55 9,49 13,47 Z"/>
<path fill="none" d="M17,62 L17,109 M48,62 L48,97"/>
<path fill="none" d="M17,95.5 L47,96.5 M36.5,44 L37,95"/>
<path fill="#c4c4c4" d="M23,38 L29,47 L35,44 L38,41 L37.5,38"/>
<rect x="40.5" y="58" width="7" height="12" fill="#c4c4c4"/>
<path fill="#fff" d="M12,110 C11,115 12,121 16,123 C20,124 22.5,121 22.5,116 C22.5,112 21,110 17,109 Z"/>
<path fill="#fff" d="M48,104 C48,108 49,112 51,113 C53,113 54.5,109 54,104 Z"/>
<path fill="#fff" d="M24,31 L24.5,41 C28,44 34,45 38,42 L37,34 Z"/>
<path fill="#fff" d="M23.5,20 C22.5,29 27,36 33,36 C38,36 41.5,33 42,27 L42,16 Z"/>
<path fill="#3a3a3a" stroke="none" d="M23.5,20.5 L29.5,19.5 L29,24 L26.5,27 L24.5,25.5 Z"/>
<path fill="#e2adba" d="M17.5,21.8 C17,11 23,4.8 30,4.8 C37,4.8 41,9 42.5,14.5 L45,16 L44,17.6 L41,17.4 C35,17.6 29,18.4 26,19.2 C22,20.2 19.5,21.2 17.5,21.8 Z"/>
<path fill="none" stroke="#c48896" stroke-width="2" d="M19,19.6 C23,18 30,16.4 41,15.6"/>
</g>
</svg>
<div class="lb" style="left:715.5px;top:67px;font-size:27px;-webkit-text-stroke:0.5px #111"><i style="width:28px">個</i><i style="width:28px">別</i><i style="width:28px">発</i><i style="width:28px">注</i></div>
<div class="lb" style="left:1040px;width:192px;top:64px;font-size:32.5px;transform:scaleX(0.87);text-align:center">Arnest One</div>
<i class="a" style="left:680.1px;top:611.8px;font-size:25px;">発</i><i class="a" style="left:708.2px;top:611.8px;font-size:25px;">注</i><i class="a" style="left:736.4px;top:611.8px;font-size:25px;">先</i><i class="a" style="left:764.0px;top:611.8px;font-size:25px;">に</i><i class="a" style="left:790.5px;top:611.8px;font-size:25px;">よ</i><i class="a" style="left:812.9px;top:611.8px;font-size:25px;">っ</i><i class="a" style="left:839.2px;top:611.8px;font-size:25px;">て</i>
<i class="a" style="left:687.9px;top:645.2px;font-size:25px;">品</i><i class="a" style="left:717.2px;top:645.2px;font-size:25px;">質</i><i class="a" style="left:744.4px;top:645.2px;font-size:25px;">が</i><i class="a" style="left:774.9px;top:645.2px;font-size:25px;">不</i><i class="a" style="left:803.1px;top:645.2px;font-size:25px;">安</i><i class="a" style="left:831.1px;top:645.2px;font-size:25px;">定</i>
<i class="a" style="left:993.9px;top:609.3px;font-size:25px;">集</i><i class="a" style="left:1022.5px;top:609.3px;font-size:25px;">中</i><i class="a" style="left:1049.5px;top:609.3px;font-size:25px;">発</i><i class="a" style="left:1077.7px;top:609.3px;font-size:25px;">注</i><i class="a" style="left:1104.3px;top:609.3px;font-size:25px;">を</i><i class="a" style="left:1129.7px;top:609.3px;font-size:25px;">行</i><i class="a" style="left:1157.6px;top:609.3px;font-size:25px;">う</i><i class="a" style="left:1182.5px;top:609.3px;font-size:25px;">こ</i><i class="a" style="left:1206.2px;top:609.3px;font-size:25px;">と</i><i class="a" style="left:1231.3px;top:609.3px;font-size:25px;">で</i><i class="a" style="left:1259.2px;top:609.3px;font-size:25px;">、</i>
<i class="a" style="left:1069.7px;top:645.2px;font-size:25px;">品</i><i class="a" style="left:1097.8px;top:645.2px;font-size:25px;">質</i><i class="a" style="left:1125.1px;top:645.2px;font-size:25px;">が</i><i class="a" style="left:1155.5px;top:645.2px;font-size:25px;">安</i><i class="a" style="left:1184.4px;top:645.2px;font-size:25px;">定</i>
</body></html>
